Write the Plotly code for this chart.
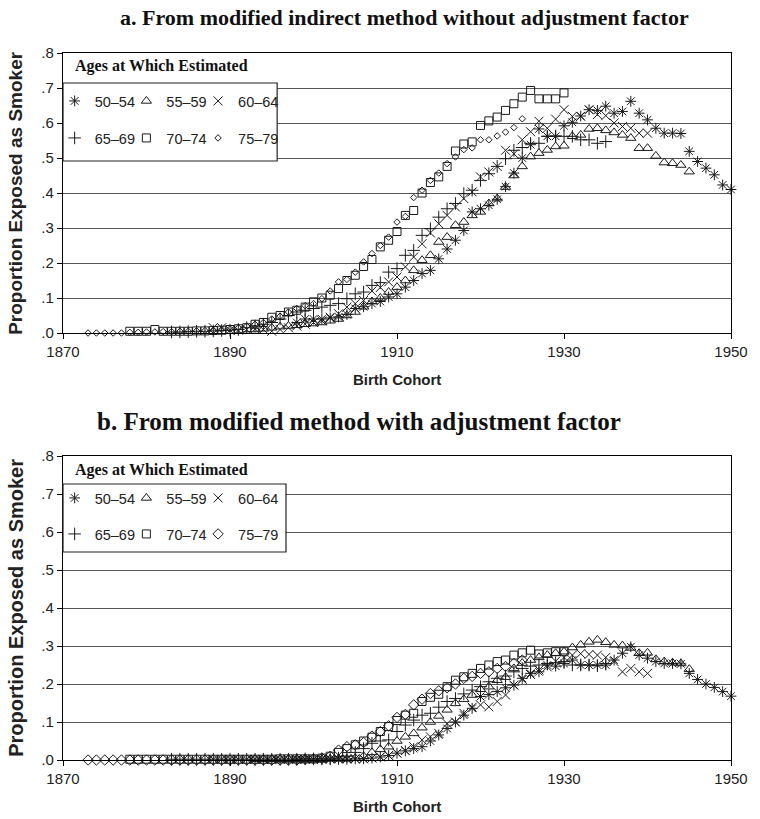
import plotly.graph_objects as go

# ---------------- data ----------------
age_groups = ["50–54", "55–59", "60–64", "65–69", "70–74", "75–79"]
first_cohort = [1898, 1893, 1888, 1883, 1878, 1873]
x_ticks = [1870, 1890, 1910, 1930, 1950]
y_ticks = [0.0, 0.1, 0.2, 0.3, 0.4, 0.5, 0.6, 0.7, 0.8]
y_tick_text = [".0", ".1", ".2", ".3", ".4", ".5", ".6", ".7", ".8"]

# Panel a: modified indirect method without adjustment factor
a_50_54 = [0.03, 0.04, 0.04, 0.04, 0.043, 0.046, 0.053, 0.07, 0.075, 0.084,
           0.09, 0.103, 0.112, 0.131, 0.15, 0.17, 0.179, 0.212, 0.24, 0.265,
           0.293, 0.346, 0.355, 0.365, 0.382, 0.418, 0.457, 0.50, 0.538, 0.583,
           0.562, 0.562, 0.592, 0.602, 0.62, 0.638, 0.636, 0.648, 0.628, 0.633,
           0.662, 0.628, 0.609, 0.585, 0.571, 0.571, 0.57, 0.519, 0.49, 0.471,
           0.452, 0.423, 0.41]
a_55_59 = [0.01, 0.012, 0.015, 0.018, 0.02, 0.022, 0.025, 0.027, 0.03, 0.035,
           0.04, 0.05, 0.06, 0.075, 0.09, 0.1, 0.117, 0.131, 0.15, 0.179,
           0.208, 0.222, 0.26, 0.274, 0.308, 0.317, 0.336, 0.346, 0.37, 0.384,
           0.417, 0.45, 0.476, 0.504, 0.514, 0.523, 0.533, 0.535, 0.562, 0.566,
           0.583, 0.585, 0.579, 0.573, 0.566, 0.557, 0.528, 0.528, 0.506, 0.487,
           0.485, 0.48, 0.461]
a_60_64 = [0.015, 0.015, 0.008, 0.008, 0.01, 0.012, 0.01, 0.005, 0.01, 0.015,
           0.02, 0.025, 0.03, 0.035, 0.045, 0.055, 0.074, 0.084, 0.093, 0.12,
           0.13, 0.146, 0.16, 0.189, 0.217, 0.255, 0.286, 0.312, 0.336, 0.36,
           0.384, 0.403, 0.446, 0.46, 0.476, 0.522, 0.512, 0.552, 0.575, 0.605,
           0.585, 0.611, 0.638, 0.619, 0.619, 0.638, 0.624, 0.621, 0.6, 0.59,
           0.585, 0.571, 0.571]
a_65_69 = [0.003, 0.003, 0.004, 0.005, 0.005, 0.006, 0.007, 0.008, 0.01, 0.015,
           0.02, 0.025, 0.03, 0.04, 0.05, 0.06, 0.065, 0.07, 0.074, 0.079,
           0.084, 0.098, 0.112, 0.117, 0.136, 0.144, 0.174, 0.184, 0.222, 0.236,
           0.279, 0.298, 0.331, 0.355, 0.37, 0.398, 0.408, 0.436, 0.455, 0.476,
           0.498, 0.522, 0.53, 0.542, 0.542, 0.562, 0.563, 0.562, 0.562, 0.552,
           0.552, 0.542, 0.547]
a_70_74 = [0.005, 0.005, 0.005, 0.01, 0.005, 0.005, 0.005, 0.005, 0.006, 0.006,
           0.007, 0.008, 0.01, 0.012, 0.015, 0.025, 0.03, 0.045, 0.05, 0.06,
           0.065, 0.074, 0.089, 0.1, 0.108, 0.127, 0.15, 0.165, 0.19, 0.21,
           0.246, 0.265, 0.29, 0.336, 0.35, 0.40, 0.43, 0.446, 0.476, 0.52,
           0.54, 0.546, 0.593, 0.606, 0.617, 0.636, 0.655, 0.674, 0.693, 0.669,
           0.669, 0.669, 0.686]
a_75_79 = [0.0, 0.0, 0.0, 0.0, 0.0, 0.002, 0.002, 0.003, 0.003, 0.004,
           0.004, 0.005, 0.005, 0.006, 0.007, 0.008, 0.01, 0.012, 0.015, 0.02,
           0.025, 0.03, 0.04, 0.048, 0.06, 0.07, 0.078, 0.084, 0.098, 0.12,
           0.146, 0.153, 0.174, 0.203, 0.227, 0.25, 0.274, 0.317, 0.333, 0.387,
           0.408, 0.436, 0.457, 0.484, 0.503, 0.524, 0.529, 0.552, 0.552, 0.563,
           0.574, 0.587, 0.612]

# Panel b: modified method with adjustment factor
b_50_54 = [0.002, 0.002, 0.002, 0.002, 0.002, 0.002, 0.002, 0.003, 0.003,
           0.005, 0.008, 0.012, 0.018, 0.024, 0.03, 0.035, 0.05, 0.066, 0.083,
           0.1, 0.118, 0.136, 0.167, 0.172, 0.18, 0.19, 0.197, 0.215, 0.228,
           0.232, 0.25, 0.247, 0.254, 0.263, 0.25, 0.25, 0.25, 0.25, 0.263,
           0.281, 0.298, 0.276, 0.268, 0.259, 0.254, 0.254, 0.253, 0.228, 0.212,
           0.2, 0.191, 0.18, 0.168]
b_55_59 = [0.002, 0.002, 0.002, 0.002, 0.002, 0.002, 0.002, 0.002, 0.002, 0.003,
           0.003, 0.003,
           0.005, 0.01, 0.02, 0.028, 0.035, 0.05, 0.061, 0.07, 0.085, 0.1,
           0.116, 0.132, 0.149, 0.16, 0.171, 0.186, 0.193, 0.21, 0.218, 0.241,
           0.255, 0.263, 0.27, 0.276, 0.281, 0.285, 0.296, 0.303, 0.311, 0.316,
           0.31, 0.303, 0.301, 0.295, 0.281, 0.282, 0.265, 0.259, 0.256, 0.254,
           0.239]
b_60_64 = [0.002, 0.002, 0.002, 0.002, 0.002, 0.002, 0.002, 0.002, 0.002, 0.002,
           0.002, 0.002, 0.002, 0.002, 0.003, 0.003, 0.003, 0.003, 0.003,
           0.005, 0.008, 0.012, 0.018, 0.025, 0.035, 0.053, 0.061, 0.07, 0.096,
           0.1, 0.123, 0.139, 0.145, 0.14, 0.154, 0.171, 0.197, 0.212, 0.225,
           0.237, 0.245, 0.26, 0.27, 0.276, 0.28, 0.278, 0.276, 0.27, 0.259,
           0.232, 0.241, 0.232, 0.228]
b_65_69 = [0.002, 0.002, 0.002, 0.002, 0.002, 0.002, 0.002, 0.002, 0.002, 0.002,
           0.002, 0.002, 0.002, 0.002, 0.002, 0.002, 0.003, 0.003, 0.003, 0.003,
           0.005, 0.01, 0.02, 0.03, 0.044, 0.05, 0.053, 0.075, 0.092, 0.105,
           0.118, 0.123, 0.139, 0.154, 0.162, 0.174, 0.184, 0.193, 0.206, 0.215,
           0.221, 0.232, 0.241, 0.247, 0.25, 0.254, 0.256, 0.259, 0.25, 0.25,
           0.25, 0.248, 0.254]
b_70_74 = [0.002, 0.002, 0.002, 0.002, 0.002, 0.002, 0.002, 0.002, 0.002, 0.002,
           0.002, 0.002, 0.002, 0.002, 0.002, 0.002, 0.002, 0.002, 0.003, 0.003,
           0.003, 0.003, 0.003,
           0.005, 0.01, 0.02, 0.03, 0.04, 0.05, 0.06, 0.075, 0.088, 0.104,
           0.118, 0.123, 0.154, 0.165, 0.173, 0.193, 0.21, 0.219, 0.228, 0.241,
           0.25, 0.259, 0.263, 0.276, 0.282, 0.289, 0.279, 0.282, 0.285, 0.285]
b_75_79 = [0.0, 0.0, 0.0, 0.0, 0.0, 0.0, 0.0, 0.0, 0.0, 0.0,
           0.0, 0.0, 0.0, 0.0, 0.0, 0.0, 0.0, 0.0, 0.0, 0.0,
           0.0, 0.0, 0.0, 0.0, 0.0, 0.0,
           0.002, 0.003, 0.005, 0.01, 0.026, 0.035, 0.04, 0.046, 0.063, 0.075,
           0.09, 0.112, 0.12, 0.145, 0.16, 0.175, 0.182, 0.19, 0.2, 0.215,
           0.22, 0.228, 0.232, 0.241, 0.246, 0.254, 0.263]

panel_a = [a_50_54, a_55_59, a_60_64, a_65_69, a_70_74, a_75_79]
panel_b = [b_50_54, b_55_59, b_60_64, b_65_69, b_70_74, b_75_79]

# ---------------- style ----------------
symbols = ["asterisk-open", "triangle-up-open", "x-thin-open",
           "cross-thin-open", "square-open", "diamond-open"]
sizes_a = [9, 9, 9, 9, 8, 5]
sizes_b = [9, 9, 9, 9, 8, 8]
INK = "#1a1a1a"
SANS = "Liberation Sans, Arial, sans-serif"
SERIF = "Liberation Serif, Times New Roman, serif"

W, H = 760, 819
ML, MR, MT, MB = 63, 17, 53, 59
PW, PH = W - ML - MR, H - MT - MB

# pixel rows of the two plot frames (top = .8, bottom = .0)
A_TOP, A_BOT = 53, 333
B_TOP, B_BOT = 456, 760

# legend layout (pixels): marker columns, row centres, boxes
LEG_COLS = [70, 143, 216]
LEG_ROWS = {"a": [101, 138], "b": [498, 534]}
LEG_BOX = {"a": (281, 83, 161), "b": (290, 484, 552)}
LEG_TITLE_Y = {"a": 66, "b": 470}


def px(x):
    return (x - ML) / PW


def py(y):
    return (H - MB - y) / PH


fig = go.Figure()

leg_common = dict(orientation="h", xanchor="left", yanchor="middle",
                  bgcolor="rgba(0,0,0,0)", borderwidth=0,
                  font=dict(family=SANS, size=14.5, color="#222"),
                  itemwidth=30)
legend_layouts = {}
leg_no = 0
for key, vals, sizes, xa, ya in [("a", panel_a, sizes_a, "x", "y"),
                                 ("b", panel_b, sizes_b, "x2", "y2")]:
    for i, name in enumerate(age_groups):
        leg_no += 1
        leg_id = "legend" if leg_no == 1 else "legend%d" % leg_no
        col, row = i % 3, i // 3
        legend_layouts[leg_id] = dict(x=px(LEG_COLS[col] - 15.5),
                                      y=py(LEG_ROWS[key][row]), **leg_common)
        years = list(range(first_cohort[i], first_cohort[i] + len(vals[i])))
        fig.add_trace(go.Scatter(
            x=years, y=vals[i], mode="markers", name=name,
            xaxis=xa, yaxis=ya, legend=leg_id, cliponaxis=False,
            marker=dict(symbol=symbols[i], size=sizes[i], color=INK,
                        line=dict(color=INK, width=1)),
        ))

axis_common = dict(showline=True, linecolor="black", linewidth=1.3,
                   mirror=True, ticks="outside", ticklen=5, tickwidth=1,
                   tickcolor="black", zeroline=False,
                   tickfont=dict(family=SANS, size=15, color="#222"))

fig.update_layout(
    width=W, height=H,
    margin=dict(l=ML, r=MR, t=MT, b=MB),
    paper_bgcolor="white", plot_bgcolor="white",
    showlegend=True,
    xaxis=dict(domain=[0, 1], anchor="y", range=[1870, 1950], tickvals=x_ticks,
               showgrid=False, **axis_common),
    yaxis=dict(domain=[py(A_BOT), py(A_TOP)], anchor="x", range=[0, 0.8],
               tickvals=y_ticks, ticktext=y_tick_text, showgrid=True,
               gridcolor="#555", gridwidth=1.2, **axis_common),
    xaxis2=dict(domain=[0, 1], anchor="y2", range=[1870, 1950], tickvals=x_ticks,
                showgrid=False, **axis_common),
    yaxis2=dict(domain=[py(B_BOT), py(B_TOP)], anchor="x2", range=[0, 0.8],
                tickvals=y_ticks, ticktext=y_tick_text, showgrid=True,
                gridcolor="#555", gridwidth=1.2, **axis_common),
    **legend_layouts,
)

# legend boxes and legend titles
for key in ["a", "b"]:
    x1, y_top, y_bot = LEG_BOX[key]
    fig.add_shape(type="rect", xref="paper", yref="paper",
                  x0=px(63), x1=px(x1), y0=py(y_bot), y1=py(y_top),
                  line=dict(color="#222", width=1.2), fillcolor="white",
                  layer="above")
    fig.add_annotation(xref="paper", yref="paper", x=px(73), y=py(LEG_TITLE_Y[key]),
                       xanchor="left", yanchor="middle", showarrow=False,
                       text="<b>Ages at Which Estimated</b>",
                       font=dict(family=SERIF, size=16, color="#111"))

# panel titles
fig.add_annotation(xref="paper", yref="paper", x=px(411), y=py(17),
                   xanchor="center", yanchor="middle", showarrow=False,
                   text="<b>a. From modified indirect method without adjustment factor</b>",
                   font=dict(family=SERIF, size=22, color="#111"))
fig.add_annotation(xref="paper", yref="paper", x=px(364), y=py(421),
                   xanchor="center", yanchor="middle", showarrow=False,
                   text="<b>b. From modified method with adjustment factor</b>",
                   font=dict(family=SERIF, size=25, color="#111"))

# axis titles
for (top, bot, ysize) in [(A_TOP, A_BOT, 19), (B_TOP, B_BOT, 20)]:
    fig.add_annotation(xref="paper", yref="paper", x=px(15), y=py((top + bot) / 2),
                       xanchor="center", yanchor="middle", showarrow=False,
                       textangle=-90, text="<b>Proportion Exposed as Smoker</b>",
                       font=dict(family=SANS, size=ysize, color="#222"))
    fig.add_annotation(xref="paper", yref="paper", x=px(403), y=py(bot + 46),
                       xanchor="center", yanchor="middle", showarrow=False,
                       text="<b>Birth Cohort</b>",
                       font=dict(family=SANS, size=15, color="#222"))

fig.write_html("out.html",
               config={"displayModeBar": False},
               post_script="document.body.style.margin='0px';")
